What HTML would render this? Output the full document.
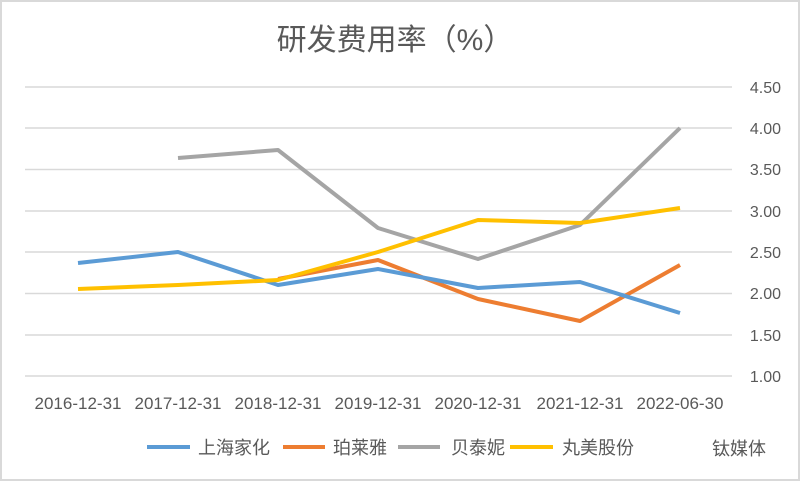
<!DOCTYPE html>
<html><head><meta charset="utf-8"><style>
body{margin:0;background:#fff}
svg{display:block}
text{font-family:"Liberation Sans","Noto Sans CJK SC",sans-serif;fill:#595959}
</style></head><body>
<svg width="800" height="481" viewBox="0 0 800 481">
<rect x="1" y="1" width="798" height="479" fill="#fff" stroke="#d9d9d9" stroke-width="2"/>
<text x="395" y="50" font-size="30" text-anchor="middle" fill="#595959">研发费用率（%）</text>
<g stroke="#d9d9d9" stroke-width="1.5">
<line x1="25" x2="732" y1="87" y2="87"/><line x1="25" x2="732" y1="128" y2="128"/>
<line x1="25" x2="732" y1="169.5" y2="169.5"/><line x1="25" x2="732" y1="211" y2="211"/>
<line x1="25" x2="732" y1="252" y2="252"/><line x1="25" x2="732" y1="293.5" y2="293.5"/>
<line x1="25" x2="732" y1="335" y2="335"/><line x1="25" x2="732" y1="376" y2="376"/>
</g>
<g font-size="16" text-anchor="end">
<text x="781" y="93">4.50</text><text x="781" y="134">4.00</text><text x="781" y="175">3.50</text>
<text x="781" y="217">3.00</text><text x="781" y="258">2.50</text><text x="781" y="299">2.00</text>
<text x="781" y="341">1.50</text><text x="781" y="382">1.00</text>
</g>
<g font-size="17" text-anchor="middle">
<text x="78" y="409">2016-12-31</text><text x="178" y="409">2017-12-31</text><text x="278" y="409">2018-12-31</text>
<text x="378" y="409">2019-12-31</text><text x="478" y="409">2020-12-31</text><text x="580" y="409">2021-12-31</text>
<text x="680" y="409">2022-06-30</text>
</g>
<g fill="none" stroke-width="4" stroke-linejoin="round">
<polyline stroke="#a5a5a5" points="178,158 278,150 378,228 478,259 580,225 680,128"/>
<polyline stroke="#ed7d31" points="278,279 378,260 478,299 580,321 680,265"/>
<polyline stroke="#5b9bd5" points="78,263 178,252 278,285 378,269 478,288 580,282 680,313"/>
<polyline stroke="#ffc000" points="78,289 178,285 278,280 378,252 478,220 580,223 680,208"/>
</g>
<g stroke-width="4">
<line x1="147" x2="190" y1="447" y2="447" stroke="#5b9bd5"/>
<line x1="283" x2="325" y1="447" y2="447" stroke="#ed7d31"/>
<line x1="398" x2="440" y1="447" y2="447" stroke="#a5a5a5"/>
<line x1="510" x2="553" y1="447" y2="447" stroke="#ffc000"/>
</g>
<g font-size="18">
<text x="198" y="454">上海家化</text><text x="333" y="454">珀莱雅</text>
<text x="451" y="454">贝泰妮</text><text x="562" y="454">丸美股份</text>
</g>
<text x="712" y="455" font-size="18" fill="#c8c8c8">钛媒体</text>
</svg>
</body></html>
